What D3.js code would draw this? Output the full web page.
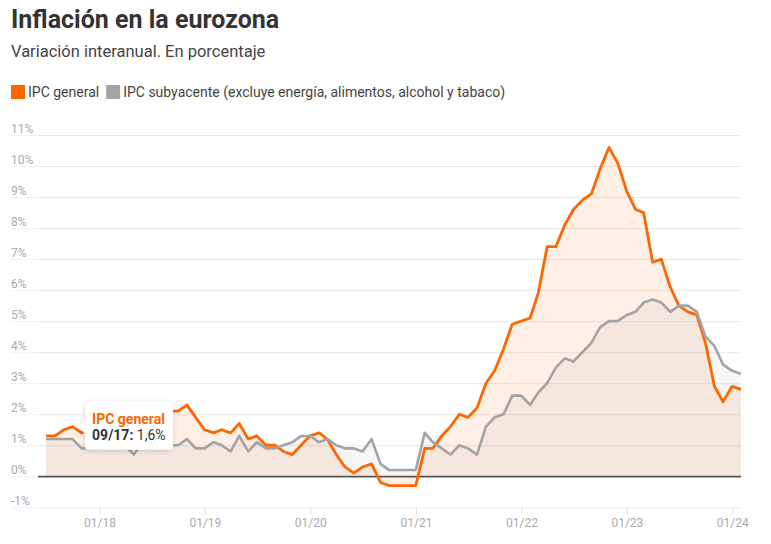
<!DOCTYPE html>
<html>
<head>
<meta charset="utf-8">
<script src="https://cdn.jsdelivr.net/npm/d3@7"></script>
<style>
  body { margin: 0; background: #fff; }
  svg { display: block; font-family: Roboto, "Noto Sans", sans-serif; }
</style>
</head>
<body>
<svg id="chart" width="771" height="544"></svg>
<script>
// monthly data, 06/17 .. 01/24
const firstMonth = new Date(2017, 5, 1);
const lastMonth = new Date(2024, 0, 1);

const ipcGeneral = [
  1.3, 1.3, 1.5, 1.6, 1.4, 1.5, 1.3,
  1.3, 1.1, 1.4, 1.2, 2.0, 2.0, 2.1, 2.1, 2.1, 2.3, 1.9, 1.5,
  1.4, 1.5, 1.4, 1.7, 1.2, 1.3, 1.0, 1.0, 0.8, 0.7, 1.0, 1.3,
  1.4, 1.2, 0.7, 0.3, 0.1, 0.3, 0.4, -0.2, -0.3, -0.3, -0.3, -0.3,
  0.9, 0.9, 1.3, 1.6, 2.0, 1.9, 2.2, 3.0, 3.4, 4.1, 4.9, 5.0,
  5.1, 5.9, 7.4, 7.4, 8.1, 8.6, 8.9, 9.1, 9.9, 10.6, 10.1, 9.2,
  8.6, 8.5, 6.9, 7.0, 6.1, 5.5, 5.3, 5.2, 4.3, 2.9, 2.4, 2.9,
  2.8
];

const ipcSubyacente = [
  1.2, 1.2, 1.2, 1.2, 0.9, 0.9, 0.9,
  1.0, 1.0, 1.0, 0.7, 1.1, 0.9, 1.1, 1.0, 1.0, 1.2, 0.9, 0.9,
  1.1, 1.0, 0.8, 1.3, 0.8, 1.1, 0.9, 0.9, 1.0, 1.1, 1.3, 1.3,
  1.1, 1.2, 1.0, 0.9, 0.9, 0.8, 1.2, 0.4, 0.2, 0.2, 0.2, 0.2,
  1.4, 1.1, 0.9, 0.7, 1.0, 0.9, 0.7, 1.6, 1.9, 2.0, 2.6, 2.6,
  2.3, 2.7, 3.0, 3.5, 3.8, 3.7, 4.0, 4.3, 4.8, 5.0, 5.0, 5.2,
  5.3, 5.6, 5.7, 5.6, 5.3, 5.5, 5.5, 5.3, 4.5, 4.2, 3.6, 3.4,
  3.3
];

const seriesNames = ["IPC general", "IPC subyacente (excluye energía, alimentos, alcohol y tabaco)"];
const seriesColors = ["#ff6600", "#a3a3a3"];

const yTicks = [-1, 0, 1, 2, 3, 4, 5, 6, 7, 8, 9, 10, 11];
const xTickYears = [2018, 2019, 2020, 2021, 2022, 2023, 2024];

const tooltipIndex = 3; // 09/17

// points sit at the end of each month
const months = d3.timeMonth.range(firstMonth, d3.timeMonth.offset(lastMonth, 1));
const monthEnd = m => new Date(m.getFullYear(), m.getMonth() + 1, 0);

const series = [ipcGeneral, ipcSubyacente].map((vals, i) => ({
  name: seriesNames[i],
  color: seriesColors[i],
  values: vals.map((v, j) => ({ month: months[j], date: monthEnd(months[j]), value: v }))
}));

const svg = d3.select("#chart");

const x = d3.scaleTime()
  .domain([monthEnd(firstMonth), monthEnd(lastMonth)])
  .range([46, 741]);

const y = d3.scaleLinear()
  .domain([-1, 11])
  .range([507.3, 135]);

// header
svg.append("text")
  .attr("x", 11).attr("y", 28)
  .attr("font-size", 25).attr("font-weight", 700)
  .attr("fill", "#333")
  .text("Inflación en la eurozona");

svg.append("text")
  .attr("x", 11).attr("y", 57)
  .attr("font-size", 16.5)
  .attr("fill", "#444")
  .text("Variación interanual. En porcentaje");

// legend
const legend = svg.append("g").attr("transform", "translate(11,85)");
let lx = 0;
series.forEach(s => {
  const item = legend.append("g").attr("transform", `translate(${lx},0)`);
  item.append("rect").attr("width", 14).attr("height", 14).attr("fill", s.color);
  const t = item.append("text")
    .attr("x", 17).attr("y", 11.7)
    .attr("font-size", 14).attr("fill", "#444")
    .text(s.name);
  lx += 17 + t.node().getComputedTextLength() + 7;
});

// y grid + labels
const yAxis = svg.append("g")
  .attr("transform", "translate(38,0)")
  .call(d3.axisRight(y).tickValues(yTicks).tickSize(703).tickFormat(d => d + "%"));
yAxis.select(".domain").remove();
yAxis.selectAll(".tick line")
  .attr("stroke", d => d === 0 ? "#555" : "#e8e8e8")
  .attr("stroke-width", d => d === 0 ? 1.3 : 1);
yAxis.selectAll(".tick")
  .insert("line", "text")
  .attr("x1", -27).attr("x2", 0)
  .attr("stroke", "#f1f1f1");
yAxis.selectAll(".tick text")
  .attr("x", -27).attr("dy", -3)
  .attr("text-anchor", "start")
  .attr("font-family", "Roboto, sans-serif")
  .attr("font-size", 12)
  .attr("fill", "#aaa");

// areas
const area = d3.area()
  .x(d => x(d.date))
  .y0(y(0))
  .y1(d => y(d.value));

svg.append("g").selectAll("path")
  .data(series)
  .join("path")
  .attr("d", d => area(d.values))
  .attr("fill", d => d.color)
  .attr("fill-opacity", 0.1);

// zero line over the fills
svg.append("line")
  .attr("x1", 38).attr("x2", 741)
  .attr("y1", y(0)).attr("y2", y(0))
  .attr("stroke", "#555").attr("stroke-width", 1.3);

// lines
const line = d3.line()
  .x(d => x(d.date))
  .y(d => y(d.value));

svg.append("g").selectAll("path")
  .data(series)
  .join("path")
  .attr("d", d => line(d.values))
  .attr("fill", "none")
  .attr("stroke", d => d.color)
  .attr("stroke-width", (d, i) => i === 0 ? 2.8 : 2.6)
  .attr("stroke-linejoin", "round");

// x axis
const xAxis = svg.append("g")
  .attr("transform", `translate(0,${y(-1)})`)
  .call(d3.axisBottom(x)
    .tickValues(xTickYears.map(yr => new Date(yr, 0, 1)))
    .tickFormat(d3.timeFormat("%m/%y"))
    .tickSize(7)
    .tickPadding(4));
xAxis.select(".domain").remove();
xAxis.selectAll(".tick line").attr("stroke", "#e0e0e0");
xAxis.selectAll(".tick text")
  .attr("font-family", "Roboto, sans-serif")
  .attr("font-size", 12)
  .attr("fill", "#aaa");

// tooltip (hover state)
const defs = svg.append("defs");
const shadow = defs.append("filter").attr("id", "tipShadow")
  .attr("x", "-30%").attr("y", "-30%").attr("width", "160%").attr("height", "160%");
shadow.append("feDropShadow")
  .attr("dx", 0).attr("dy", 1)
  .attr("stdDeviation", 2.5)
  .attr("flood-color", "#000")
  .attr("flood-opacity", 0.18);

const tipPoint = series[0].values[tooltipIndex];
const tx = x(tipPoint.date) + 6.5;
const ty = y(tipPoint.value);
const boxW = 88, boxH = 48;
const bx = tx + 6, by = ty - 25;

const tip = svg.append("g");
tip.append("path")
  .attr("d", `M${bx},${by + 3} Q${bx},${by} ${bx + 3},${by}
    L${bx + boxW - 3},${by} Q${bx + boxW},${by} ${bx + boxW},${by + 3}
    L${bx + boxW},${by + boxH - 3} Q${bx + boxW},${by + boxH} ${bx + boxW - 3},${by + boxH}
    L${bx + 3},${by + boxH} Q${bx},${by + boxH} ${bx},${by + boxH - 3}
    L${bx},${ty + 7} L${tx},${ty} L${bx},${ty - 7} Z`)
  .attr("fill", "#fff")
  .attr("filter", "url(#tipShadow)");

tip.append("text")
  .attr("x", bx + 7).attr("y", by + 22)
  .attr("font-size", 14).attr("font-weight", 700)
  .attr("fill", seriesColors[0])
  .text(seriesNames[0]);

const tipLine = tip.append("text")
  .attr("x", bx + 7).attr("y", by + 38)
  .attr("font-size", 14).attr("fill", "#333");
tipLine.append("tspan").attr("font-weight", 700)
  .text(d3.timeFormat("%m/%y")(tipPoint.month) + ":");
tipLine.append("tspan")
  .text(" " + String(tipPoint.value).replace(".", ",") + "%");
</script>
</body>
</html>
